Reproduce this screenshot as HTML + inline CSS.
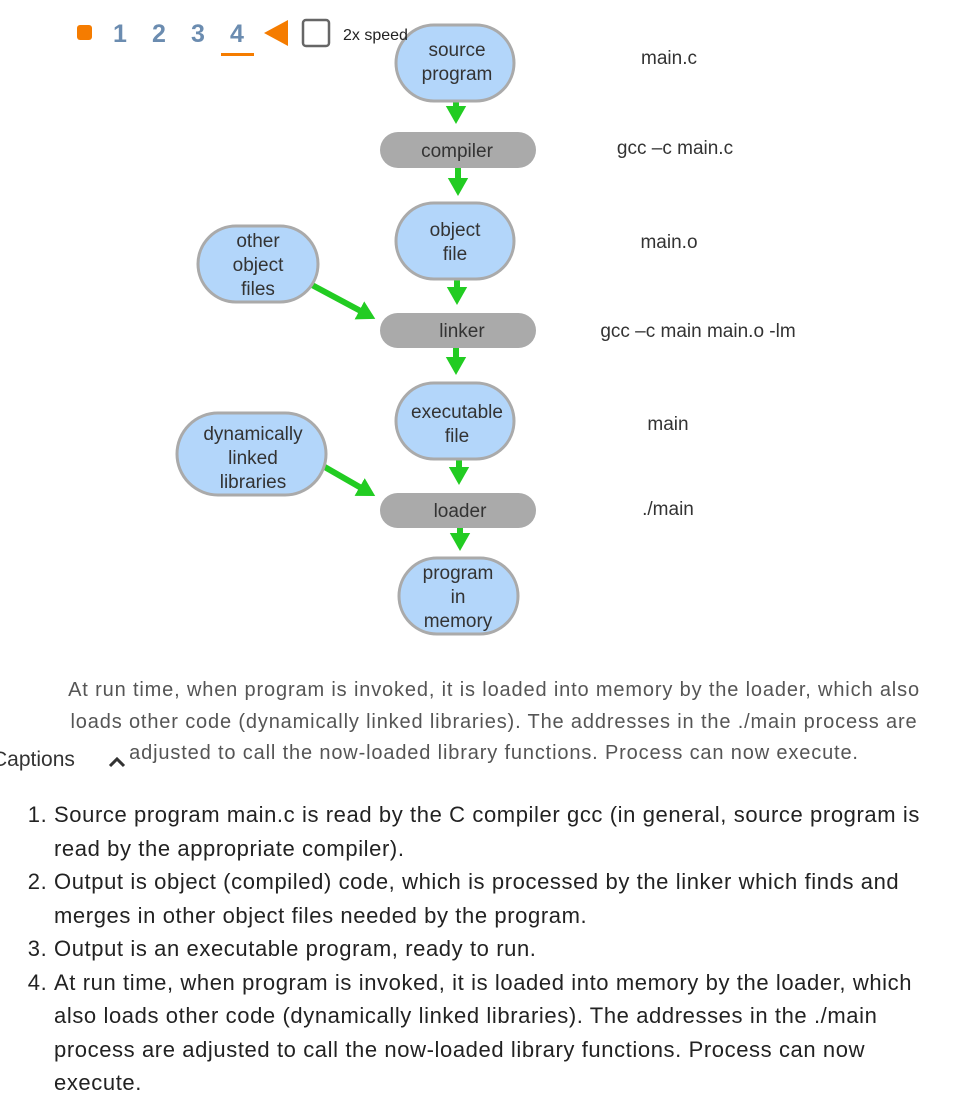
<!DOCTYPE html>
<html><head><meta charset="utf-8"><style>
body{margin:0;width:972px;height:1104px;background:#fff;position:relative;overflow:hidden;font-family:"Liberation Sans",sans-serif}
.a{position:absolute;white-space:nowrap}
.p{position:absolute;left:0;width:988px;text-align:center;font-size:20px;color:#555;line-height:31.5px;top:675px;letter-spacing:0.85px;white-space:nowrap}
ol{position:absolute;left:18px;top:798px;margin:0;padding-left:36px;width:900px;font-size:22px;line-height:33.5px;color:#222;letter-spacing:0.6px;white-space:nowrap}
</style></head><body>
<svg width="972" height="660" style="position:absolute;left:0;top:0" font-family="Liberation Sans, sans-serif">
<defs><marker id="h" markerWidth="4" markerHeight="4" refX="2" refY="2" orient="auto" markerUnits="strokeWidth"><path d="M0,0.3 L3,2 L0,3.7z" fill="#22cc22"/></marker></defs>
<g stroke="#22cc22" stroke-width="6" marker-end="url(#h)">
<line x1="456" y1="101" x2="456" y2="118"/>
<line x1="458" y1="168" x2="458" y2="190"/>
<line x1="457" y1="279" x2="457" y2="299"/>
<line x1="456" y1="348" x2="456" y2="369"/>
<line x1="459" y1="459" x2="459" y2="479"/>
<line x1="460" y1="528" x2="460" y2="545"/>
<line x1="312" y1="285" x2="370" y2="316"/>
<line x1="323" y1="466" x2="370" y2="493"/>
</g>
<g fill="#b3d6fa" stroke="#aaa" stroke-width="3">
<rect x="396" y="25" width="118" height="76" rx="38"/>
<rect x="396" y="203" width="118" height="76" rx="38"/>
<rect x="198" y="226" width="120" height="76" rx="38"/>
<rect x="396" y="383" width="118" height="76" rx="38"/>
<rect x="177" y="413" width="149" height="82" rx="41"/>
<rect x="399" y="558" width="119" height="76" rx="38"/>
</g>
<g fill="#aaa"><rect x="380" y="132" width="156" height="36" rx="18"/><rect x="380" y="313" width="156" height="35" rx="17.5"/><rect x="380" y="493" width="156" height="35" rx="17.5"/></g>
<g font-size="19" fill="#333" text-anchor="middle">
<text x="457" y="56">source</text><text x="457" y="80">program</text>
<text x="457" y="157">compiler</text>
<text x="455" y="236">object</text><text x="455" y="260">file</text>
<text x="258" y="247">other</text><text x="258" y="271">object</text><text x="258" y="295">files</text>
<text x="462" y="337">linker</text>
<text x="457" y="418">executable</text><text x="457" y="442">file</text>
<text x="253" y="440">dynamically</text><text x="253" y="464">linked</text><text x="253" y="488">libraries</text>
<text x="460" y="517">loader</text>
<text x="458" y="579">program</text><text x="458" y="603">in</text><text x="458" y="627">memory</text>
<text x="669" y="64">main.c</text><text x="675" y="154">gcc –c main.c</text><text x="669" y="248">main.o</text>
<text x="698" y="337">gcc –c main main.o -lm</text><text x="668" y="430">main</text><text x="668" y="515">./main</text>
</g>
<rect x="77" y="25" width="15" height="15" rx="3" fill="#f57c00"/>
<g font-size="25" font-weight="bold" fill="#6b8cb0" text-anchor="middle"><text x="120" y="42">1</text><text x="159" y="42">2</text><text x="198" y="42">3</text><text x="237" y="42">4</text></g>
<rect x="221" y="53" width="33" height="3" fill="#f57c00"/>
<path d="M264,33 L288,20 L288,46z" fill="#f57c00"/>
<rect x="303" y="20" width="26" height="26" rx="3" fill="none" stroke="#666" stroke-width="2.5"/>
<text x="343" y="40" font-size="16" fill="#222">2x speed</text>
</svg>
<div class="p">At run time, when program is invoked, it is loaded into memory by the loader, which also<br>loads other code (dynamically linked libraries). The addresses in the ./main process are<br>adjusted to call the now-loaded library functions. Process can now execute.</div>
<div class="a" style="left:-8px;top:748px;font-size:21px;color:#333">Captions</div>
<svg class="a" style="left:108px;top:755px" width="20" height="14"><path d="M2,11 L9,4 L16,11" fill="none" stroke="#333" stroke-width="3"/></svg>
<ol>
<li>Source program main.c is read by the C compiler gcc (in general, source program is<br>read by the appropriate compiler).</li>
<li>Output is object (compiled) code, which is processed by the linker which finds and<br>merges in other object files needed by the program.</li>
<li>Output is an executable program, ready to run.</li>
<li>At run time, when program is invoked, it is loaded into memory by the loader, which<br>also loads other code (dynamically linked libraries). The addresses in the ./main<br>process are adjusted to call the now-loaded library functions. Process can now<br>execute.</li>
</ol>
</body></html>
